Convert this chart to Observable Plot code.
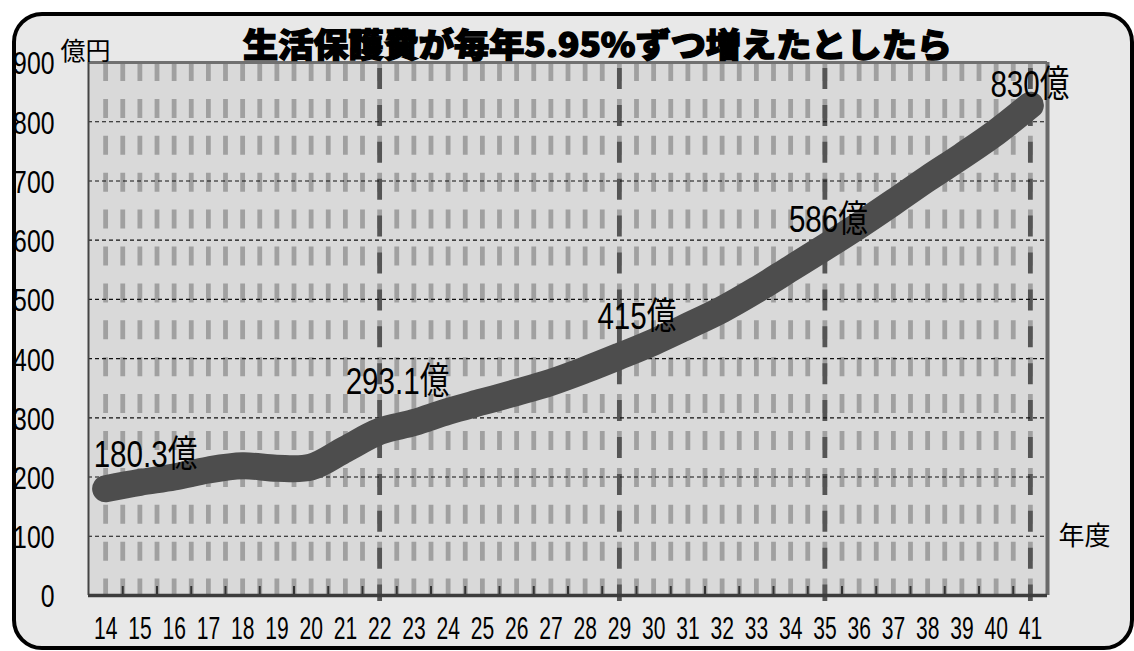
<!DOCTYPE html>
<html><head><meta charset="utf-8">
<script src="https://cdn.jsdelivr.net/npm/d3@7"></script>
<script src="https://cdn.jsdelivr.net/npm/@observablehq/plot@0.6"></script>
<style>
body{margin:0;background:#fff;}
#wrap{position:relative;width:1134px;height:651px;overflow:hidden;}
#box{position:absolute;left:12px;top:12px;width:1122px;height:638px;box-sizing:border-box;border:4px solid #000;border-radius:30px;background:#e8e8e8;}
#chart{position:absolute;left:0;top:0;}
#title{position:absolute;left:243px;top:27px;font-family:"Noto Sans CJK JP",sans-serif;font-weight:900;font-size:33px;line-height:33px;white-space:nowrap;transform-origin:0 0;-webkit-text-stroke:1.4px #000;color:#000;}
</style></head><body>
<div id="wrap"><div id="box"></div><div id="chart"></div><div id="title"></div></div>
<script>
const titleText = "生活保護費が毎年5.95%ずつ増えたとしたら";
const years = [14,15,16,17,18,19,20,21,22,23,24,25,26,27,28,29,30,31,32,33,34,35,36,37,38,39,40,41];
const values = [180.3,191,200,212,219,215,217,247,277,292,311,327,343,360,381,404,428,455,483,516,552,588,625,664,704,742,782,828];
const labelYears = [14,22,29,35,41];
const labelTexts = ["180.3億","293.1億","415億","586億","830億"];
const majorYears = [22,29,35,41];
const yTicks = [0,100,200,300,400,500,600,700,800,900];
const yUnit = "億円";
const xUnit = "年度";

const labelShift = [[-12,-34],[-34,-49],[-22,-39],[-36,-27],[-40,-20]];
const latin = "Liberation Sans, Arial, Noto Sans CJK JP, sans-serif";
const cjk = "Noto Sans CJK JP, sans-serif";

const data = years.map((y,i)=>({year:y, value:values[i]}));
const bounds = years.slice(0,-1).map(y=>y+0.5);
const grayX = years.concat(bounds);

const labelMarks = labelYears.map((yr,i)=>Plot.text(
  [{year:yr, value:values[years.indexOf(yr)], text:labelTexts[i]}],
  {x:"year", y:"value", text:"text", textAnchor:"start", dx:labelShift[i][0], dy:labelShift[i][1],
   fontSize:37, fontFamily:latin, fill:"#000", className:"dlabel"}));

const plot = Plot.plot({
  width:1134, height:651,
  marginLeft:88, marginRight:87, marginTop:62, marginBottom:56,
  style:{background:"transparent", color:"#000"},
  x:{type:"linear", domain:[13.5,41.5]},
  y:{domain:[0,900]},
  marks:[
    Plot.frame({fill:"#d9d9d9", stroke:null}),
    Plot.ruleX(grayX, {y1:900, y2:0, stroke:"#a0a0a0", strokeWidth:4.8, strokeDasharray:"19,17.9"}),
    Plot.ruleX(majorYears, {y1:900, y2:0, insetBottom:-6, stroke:"#555", strokeWidth:4.8, strokeDasharray:"21,15.9", strokeDashoffset:30.9}),
    Plot.ruleY(yTicks.filter(v=>v>0 && v<900), {stroke:"#111", strokeWidth:1.1, strokeDasharray:"4,3"}),
    Plot.ruleY([900], {stroke:"#707070", strokeWidth:3}),
    Plot.ruleX([41.5], {stroke:"#6a6a6a", strokeWidth:4}),
    Plot.ruleX([13.5], {stroke:"#444", strokeWidth:2}),
    Plot.ruleX(bounds, {y1:0, y2:0, insetTop:-9, stroke:"#333", strokeWidth:2}),
    Plot.ruleY([0], {stroke:"#3c3c3c", strokeWidth:3.5}),
    Plot.line(data, {x:"year", y:"value", stroke:"#4d4d4d", strokeWidth:27, strokeLinecap:"round", strokeLinejoin:"round", curve:"catmull-rom"}),
    Plot.axisY(yTicks, {tickSize:0, tickPadding:34, fontSize:31, fontFamily:latin, label:null, dy:2}),
    Plot.axisX(years, {tickSize:0, tickPadding:21, fontSize:31, fontFamily:latin, label:null}),
    Plot.text([yUnit], {text:d=>d, frameAnchor:"top-left", textAnchor:"start", dx:-28, dy:-20, fontSize:25, fontFamily:cjk}),
    Plot.text([{label:xUnit, v:100}], {y:"v", text:"label", frameAnchor:"right", textAnchor:"start", dx:11, fontSize:26, fontFamily:cjk}),
    ...labelMarks
  ]
});
document.getElementById("chart").appendChild(plot);

function squeeze(sel, k){
  plot.querySelectorAll(sel).forEach(t=>{
    const L = t.getComputedTextLength();
    t.setAttribute("textLength", (L*k).toFixed(2));
    t.setAttribute("lengthAdjust","spacingAndGlyphs");
  });
}
squeeze('g[aria-label="x-axis tick label"] text', 0.68);
squeeze('g[aria-label="y-axis tick label"] text', 0.8);
squeeze('.dlabel text', 0.8);

const t = document.getElementById("title");
t.textContent = titleText;
const w = t.getBoundingClientRect().width;
t.style.transform = `scaleX(${709/w})`;
</script>
</body></html>
